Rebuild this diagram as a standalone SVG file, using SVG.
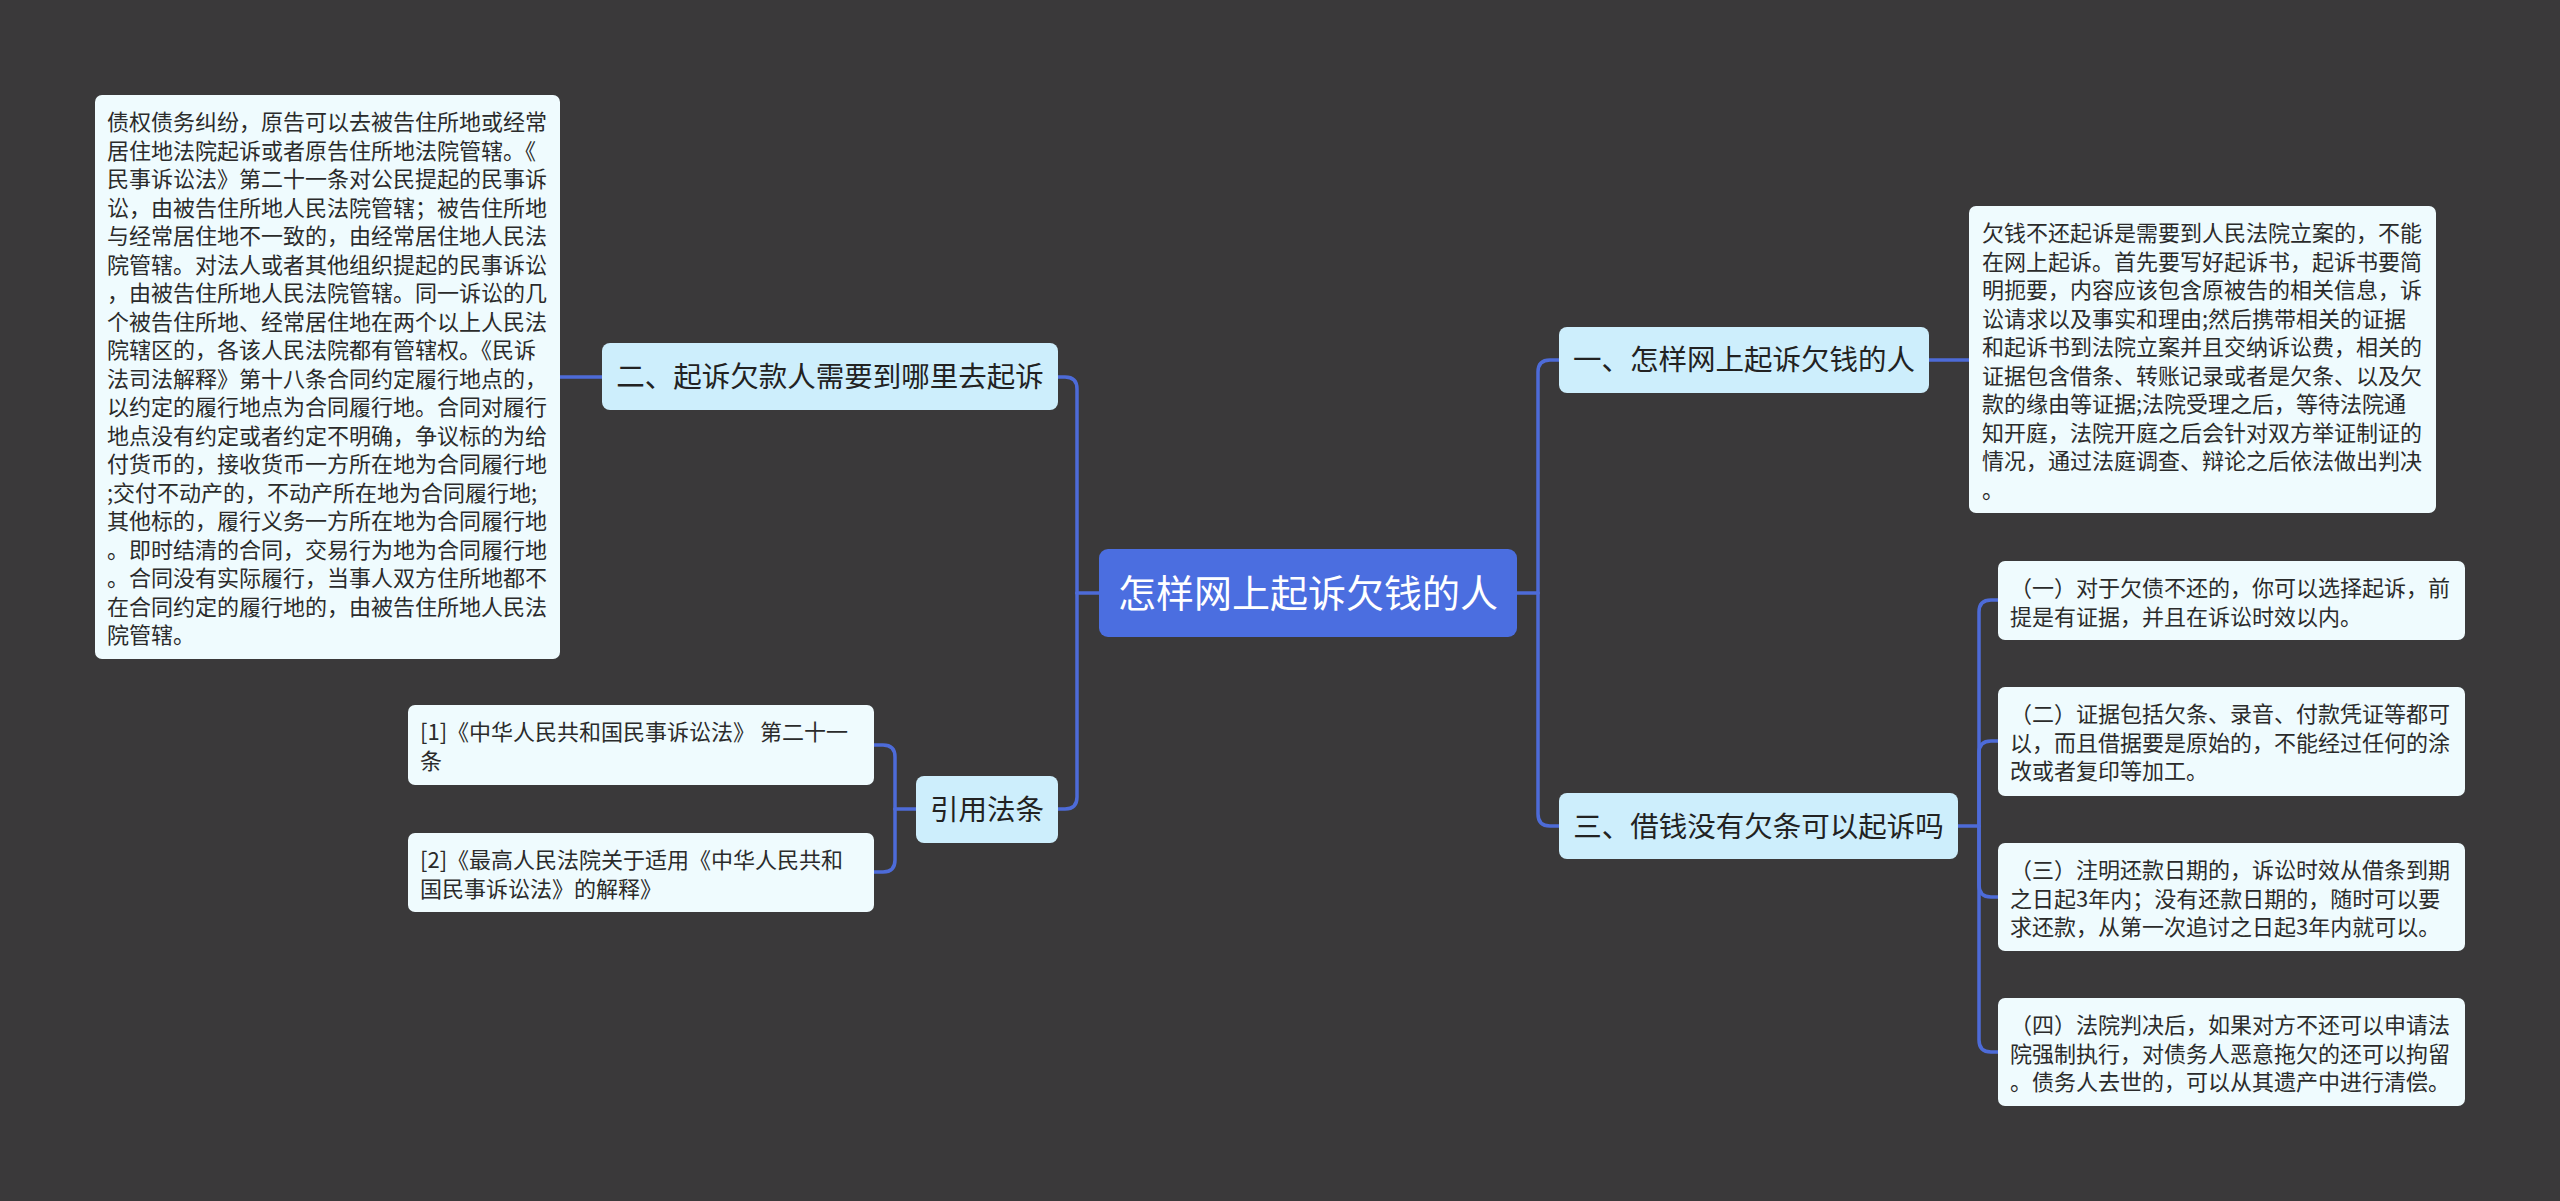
<svg xmlns="http://www.w3.org/2000/svg" width="2560" height="1201" viewBox="0 0 2560 1201">
<style>
.bg{fill:#3a393a}
.root rect{fill:#4b6ee0}
.root text{fill:#ffffff;font-size:38px;text-anchor:middle}
.l1 rect{fill:#cdeefc}
.l1 text{fill:#222222;font-size:28.5px;text-anchor:middle}
.leaf rect{fill:#effbfe}
.leaf text{fill:#2b2b2b;font-size:22px}
text{font-family:"Noto Sans CJK SC","Noto Sans",sans-serif}
.conn path{fill:none;stroke:#4d6bd8;stroke-width:3.5;stroke-linecap:round}
</style>
<rect class="bg" x="0" y="0" width="2560" height="1201"/>
<g class="conn" id="connectors">
<path d="M560,377 H602"/>
<path d="M1099,593 H1077"/>
<path d="M1077,593 V389 Q1077,377 1065,377 H1058"/>
<path d="M1077,593 V797 Q1077,809 1065,809 H1058"/>
<path d="M916,809 H895"/>
<path d="M895,809 V757 Q895,745 883,745 H874"/>
<path d="M895,809 V860 Q895,872 883,872 H874"/>
<path d="M1517,593 H1538"/>
<path d="M1538,593 V372 Q1538,360 1550,360 H1559"/>
<path d="M1538,593 V814 Q1538,826 1550,826 H1559"/>
<path d="M1929,360 H1969"/>
<path d="M1958,826 H1979"/>
<path d="M1979,826 V612 Q1979,600 1991,600 H1998"/>
<path d="M1979,826 V753 Q1979,741 1991,741 H1998"/>
<path d="M1979,826 V885 Q1979,897 1991,897 H1998"/>
<path d="M1979,826 V1040 Q1979,1052 1991,1052 H1998"/>
</g>
<g class="root" id="root">
<rect x="1099" y="549" width="418" height="88" rx="9"/>
<text x="1308" y="607">怎样网上起诉欠钱的人</text>
</g>
<g class="l1" id="n2">
<rect x="602" y="343" width="456" height="67" rx="8"/>
<text x="830" y="387">二、起诉欠款人需要到哪里去起诉</text>
</g>
<g class="leaf" id="n2a">
<rect x="95" y="95" width="465" height="564" rx="7"/>
<text x="107" y="130">债权债务纠纷，原告可以去被告住所地或经常</text>
<text x="107" y="158.5">居住地法院起诉或者原告住所地法院管辖。《</text>
<text x="107" y="187">民事诉讼法》第二十一条对公民提起的民事诉</text>
<text x="107" y="215.5">讼，由被告住所地人民法院管辖；被告住所地</text>
<text x="107" y="244">与经常居住地不一致的，由经常居住地人民法</text>
<text x="107" y="272.5">院管辖。对法人或者其他组织提起的民事诉讼</text>
<text x="107" y="301">，由被告住所地人民法院管辖。同一诉讼的几</text>
<text x="107" y="329.5">个被告住所地、经常居住地在两个以上人民法</text>
<text x="107" y="358">院辖区的，各该人民法院都有管辖权。《民诉</text>
<text x="107" y="386.5">法司法解释》第十八条合同约定履行地点的，</text>
<text x="107" y="415">以约定的履行地点为合同履行地。合同对履行</text>
<text x="107" y="443.5">地点没有约定或者约定不明确，争议标的为给</text>
<text x="107" y="472">付货币的，接收货币一方所在地为合同履行地</text>
<text x="107" y="500.5">;交付不动产的，不动产所在地为合同履行地;</text>
<text x="107" y="529">其他标的，履行义务一方所在地为合同履行地</text>
<text x="107" y="557.5">。即时结清的合同，交易行为地为合同履行地</text>
<text x="107" y="586">。合同没有实际履行，当事人双方住所地都不</text>
<text x="107" y="614.5">在合同约定的履行地的，由被告住所地人民法</text>
<text x="107" y="643">院管辖。</text>
</g>
<g class="l1" id="n3">
<rect x="916" y="776" width="142" height="67" rx="8"/>
<text x="987" y="820">引用法条</text>
</g>
<g class="leaf" id="n3a">
<rect x="408" y="705" width="466" height="80" rx="7"/>
<text x="420" y="740">[1]《中华人民共和国民事诉讼法》 第二十一</text>
<text x="420" y="768.5">条</text>
</g>
<g class="leaf" id="n3b">
<rect x="408" y="833" width="466" height="79" rx="7"/>
<text x="420" y="868">[2]《最高人民法院关于适用《中华人民共和</text>
<text x="420" y="896.5">国民事诉讼法》的解释》</text>
</g>
<g class="l1" id="n1">
<rect x="1559" y="327" width="370" height="66" rx="8"/>
<text x="1744" y="370">一、怎样网上起诉欠钱的人</text>
</g>
<g class="leaf" id="n1a">
<rect x="1969" y="206" width="467" height="307" rx="7"/>
<text x="1982" y="241">欠钱不还起诉是需要到人民法院立案的，不能</text>
<text x="1982" y="269.5">在网上起诉。首先要写好起诉书，起诉书要简</text>
<text x="1982" y="298">明扼要，内容应该包含原被告的相关信息，诉</text>
<text x="1982" y="326.5">讼请求以及事实和理由;然后携带相关的证据</text>
<text x="1982" y="355">和起诉书到法院立案并且交纳诉讼费，相关的</text>
<text x="1982" y="383.5">证据包含借条、转账记录或者是欠条、以及欠</text>
<text x="1982" y="412">款的缘由等证据;法院受理之后，等待法院通</text>
<text x="1982" y="440.5">知开庭，法院开庭之后会针对双方举证制证的</text>
<text x="1982" y="469">情况，通过法庭调查、辩论之后依法做出判决</text>
<text x="1982" y="497.5">。</text>
</g>
<g class="l1" id="n4">
<rect x="1559" y="793" width="399" height="66" rx="8"/>
<text x="1758.5" y="836.5">三、借钱没有欠条可以起诉吗</text>
</g>
<g class="leaf" id="n4a">
<rect x="1998" y="561" width="467" height="79" rx="7"/>
<text x="2010" y="596">（一）对于欠债不还的，你可以选择起诉，前</text>
<text x="2010" y="624.5">提是有证据，并且在诉讼时效以内。</text>
</g>
<g class="leaf" id="n4b">
<rect x="1998" y="687" width="467" height="109" rx="7"/>
<text x="2010" y="722">（二）证据包括欠条、录音、付款凭证等都可</text>
<text x="2010" y="750.5">以，而且借据要是原始的，不能经过任何的涂</text>
<text x="2010" y="779">改或者复印等加工。</text>
</g>
<g class="leaf" id="n4c">
<rect x="1998" y="843" width="467" height="108" rx="7"/>
<text x="2010" y="878">（三）注明还款日期的，诉讼时效从借条到期</text>
<text x="2010" y="906.5">之日起3年内；没有还款日期的，随时可以要</text>
<text x="2010" y="935">求还款，从第一次追讨之日起3年内就可以。</text>
</g>
<g class="leaf" id="n4d">
<rect x="1998" y="998" width="467" height="108" rx="7"/>
<text x="2010" y="1033">（四）法院判决后，如果对方不还可以申请法</text>
<text x="2010" y="1061.5">院强制执行，对债务人恶意拖欠的还可以拘留</text>
<text x="2010" y="1090">。债务人去世的，可以从其遗产中进行清偿。</text>
</g>
</svg>
